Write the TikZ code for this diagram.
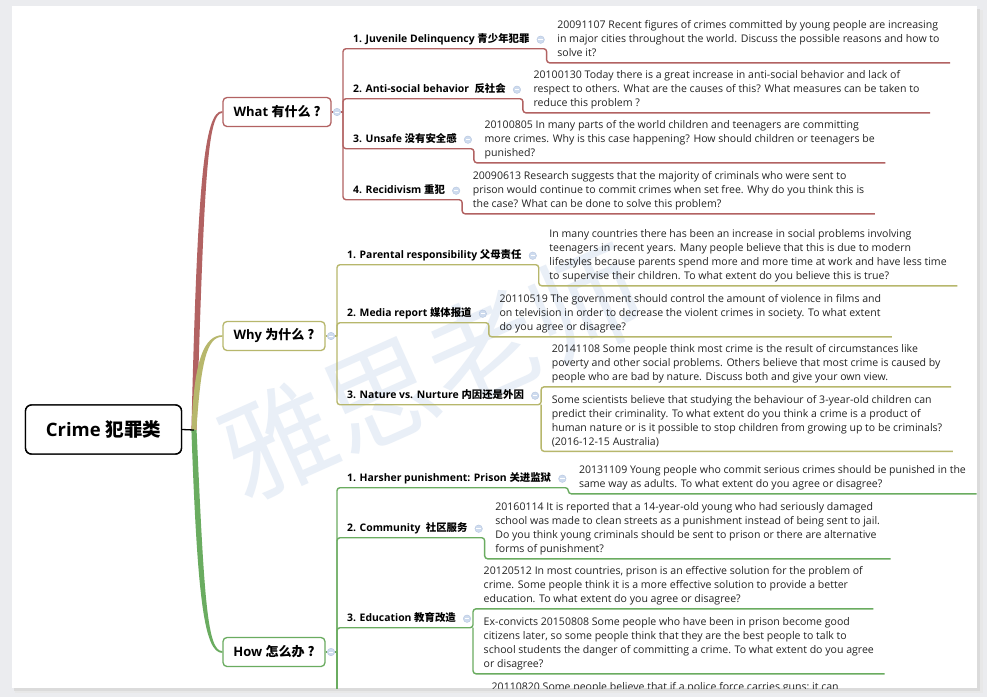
\documentclass[tikz,border=0pt]{standalone}
\usepackage{fontspec}
\setmainfont{Open Sans}
\newfontfamily\cjk{Noto Sans CJK SC}
\usetikzlibrary{calc}
\definecolor{redc}{RGB}{178,98,98}
\definecolor{olvc}{RGB}{183,183,108}
\definecolor{grnc}{RGB}{106,172,96}
\definecolor{wmk}{RGB}{233,239,247}
\definecolor{cirf}{RGB}{206,219,238}
\definecolor{cird}{RGB}{182,198,224}
\definecolor{bgc}{RGB}{235,236,239}
\definecolor{txt}{RGB}{35,35,35}
\newcommand\myBody{\fontsize{10.55}{14}\selectfont}
\newcommand\myLbl{\fontsize{10.4}{14}\selectfont\bfseries}
\newcommand\myTopic{\fontsize{13}{16}\selectfont\bfseries}
\newcommand\myRoot{\fontsize{18.5}{22}\selectfont\bfseries}
\begin{document}
\begin{tikzpicture}[x=1pt,y=-1pt,
  box/.style={anchor=west, inner xsep=10.5pt, inner ysep=1.8pt, align=left, font=\myBody, text=txt,
    execute at begin node=\strut, execute at end node=\strut},
  lbl/.style={anchor=west, inner xsep=10pt, inner ysep=1.8pt, font=\myLbl, text=black,
    execute at begin node=\strut, execute at end node=\strut},
  topic/.style={rounded corners=4pt, line width=1.3pt, fill=white, inner sep=0pt, font=\myTopic, minimum height=29pt},
  root/.style={draw=black, rounded corners=6pt, line width=1.4pt, fill=white, inner sep=0pt, font=\myRoot,
    minimum width=156pt, minimum height=49pt},
  cir/.style={circle, minimum size=7.5pt, inner sep=0pt, fill=cirf, draw=cird, line width=.4pt,
    path picture={\draw[white, line width=.8pt] ([xshift=-2.2pt]path picture bounding box.center) -- ([xshift=2.2pt]path picture bounding box.center);}},
  rl/.style={draw=redc, line width=1.4pt, rounded corners=3pt},
  ol/.style={draw=olvc, line width=1.4pt, rounded corners=3pt},
  gl/.style={draw=grnc, line width=1.4pt, rounded corners=3pt},
  wm/.style={font=\fontsize{112}{112}\selectfont\cjk, text=wmk, rotate=24, inner sep=0pt}
]
\useasboundingbox (0,0) rectangle (987,697);
% page frame
\fill[bgc] (0,0) rectangle (987,697);
\fill[black!14] (977,9) rectangle (980,691);
\fill[black!9] (980,10) rectangle (983,692);
\fill[black!14] (14,688) rectangle (980,691);
\fill[black!9] (15,691) rectangle (983,693);
\fill[white] (12,6) rectangle (977,688);
\begin{scope}
\clip (12,6) rectangle (977,688);
% watermark
\node[wm] (wmark) at (432,372) {雅思老师};

% main nodes (first pass, for branch geometry)
\node[root] (crime) at (103.5,429.5) {Crime \cjk{犯罪类}};
\coordinate (hub) at (194,430);
\node[topic, minimum width=108pt] (what) at (277,112) {};
\node[topic, minimum width=102pt] (why) at (274,336) {};
\node[topic, minimum width=102pt] (how) at (274,652) {};

% thick tapered branches
\fill[redc] ([xshift=-2.6pt]hub) .. controls +(6,-250) and +(-18,0) .. ([yshift=0.9pt]what.west)
  -- ([yshift=-0.9pt]what.west) .. controls +(-15,0) and +(7.5,-250) .. ([xshift=2.6pt]hub) -- cycle;
\fill[olvc] ([xshift=-2.4pt]hub) .. controls +(2,-70) and +(-18,0) .. ([yshift=0.8pt]why.west)
  -- ([yshift=-0.8pt]why.west) .. controls +(-15,0) and +(4.5,-70) .. ([xshift=2.4pt]hub) -- cycle;
\fill[grnc] ([xshift=-2.6pt]hub) .. controls +(6,170) and +(-18,0) .. ([yshift=-0.9pt]how.west)
  -- ([yshift=0.9pt]how.west) .. controls +(-15,0) and +(7.5,170) .. ([xshift=2.6pt]hub) -- cycle;
\draw[black, line width=1.3pt] (crime.east) -- (hub);

\node[topic, draw=redc, minimum width=108pt] (what) at (277,112) {What \cjk{有什么} ?};
\node[topic, draw=olvc, minimum width=102pt] (why) at (274,336) {Why \cjk{为什么} ?};
\node[topic, draw=grnc, minimum width=102pt] (how) at (274,652) {How \cjk{怎么办} ?};
\node[root] (crime) at (103.5,429.5) {Crime \cjk{犯罪类}};

% topic buttons and junctions
\node[cir] (wcir) at (337,112) {};
\node[cir] (ycir) at (331,336) {};
\node[cir] (hcir) at (331,652) {};
\coordinate (wj) at (343,112);
\coordinate (yj) at (337,336);
\coordinate (hj) at (337,652);
\draw[rl] (what.east) -- (wcir.west);
\draw[rl] (wcir.east) -- (wj);
\draw[ol] (why.east) -- (ycir.west);
\draw[ol] (ycir.east) -- (yj);
\draw[gl] (how.east) -- (hcir.west);
\draw[gl] (hcir.east) -- (hj);

% ---------- What ----------
\node[lbl] (w1l) at (343,39.7) {1. Juvenile Delinquency \cjk{青少年犯罪}};
\node[cir] (w1c) at ([xshift=1pt]w1l.east) {};
\node[box] (w1b) at ($(w1l.east)+(7,1)$) {20091107 Recent figures of crimes committed by young people are increasing\\in major cities throughout the world. Discuss the possible reasons and how to\\solve it?};
\draw[rl] (wj) -- (wj |- w1l.south) -- (w1b.south west |- w1l.south) -- (w1b.south west) -- (w1b.south east);

\node[lbl] (w2l) at (343,89.7) {2. Anti-social behavior\ \ \cjk{反社会}};
\node[cir] (w2c) at ([xshift=1pt]w2l.east) {};
\node[box] (w2b) at ($(w2l.east)+(7,1)$) {20100130 Today there is a great increase in anti-social behavior and lack of\\respect to others. What are the causes of this? What measures can be taken to\\reduce this problem ?};
\draw[rl] (wj) -- (wj |- w2l.south) -- (w2b.south west |- w2l.south) -- (w2b.south west) -- (w2b.south east);

\node[lbl] (w3l) at (343,139.7) {3. Unsafe \cjk{没有安全感}};
\node[cir] (w3c) at ([xshift=1pt]w3l.east) {};
\node[box] (w3b) at ($(w3l.east)+(7,1)$) {20100805 In many parts of the world children and teenagers are committing\\more crimes. Why is this case happening? How should children or teenagers be\\punished?};
\draw[rl] (wj) -- (wj |- w3l.south) -- (w3b.south west |- w3l.south) -- (w3b.south west) -- (w3b.south east);

\node[lbl] (w4l) at (343,190.7) {4. Recidivism \cjk{重犯}};
\node[cir] (w4c) at ([xshift=1pt]w4l.east) {};
\node[box] (w4b) at ($(w4l.east)+(7,1)$) {20090613 Research suggests that the majority of criminals who were sent to\\prison would continue to commit crimes when set free. Why do you think this is\\the case? What can be done to solve this problem?};
\draw[rl] (wj) -- (wj |- w4l.south) -- (w4b.south west |- w4l.south) -- (w4b.south west) -- (w4b.south east);

% ---------- Why ----------
\node[lbl] (y1l) at (337,255.7) {1. Parental responsibility \cjk{父母责任}};
\node[cir] (y1c) at ([xshift=1pt]y1l.east) {};
\node[box] (y1b) at ($(y1l.east)+(7,1)$) {In many countries there has been an increase in social problems involving\\teenagers in recent years. Many people believe that this is due to modern\\lifestyles because parents spend more and more time at work and have less time\\to supervise their children. To what extent do you believe this is true?};
\draw[ol] (yj) -- (yj |- y1l.south) -- (y1b.south west |- y1l.south) -- (y1b.south west) -- (y1b.south east);

\node[lbl] (y2l) at (337,313.7) {2. Media report \cjk{媒体报道}};
\node[cir] (y2c) at ([xshift=1pt]y2l.east) {};
\node[box] (y2b) at ($(y2l.east)+(7,1)$) {20110519 The government should control the amount of violence in films and\\on television in order to decrease the violent crimes in society. To what extent\\do you agree or disagree?};
\draw[ol] (yj) -- (yj |- y2l.south) -- (y2b.south west |- y2l.south) -- (y2b.south west) -- (y2b.south east);

\node[lbl] (y3l) at (337,395.7) {3. Nature vs. Nurture \cjk{内因还是外因}};
\node[cir] (y3c) at ([xshift=1pt]y3l.east) {};
\node[box] (y3a) at ($(y3l.east)+(7,-31)$) {20141108 Some people think most crime is the result of circumstances like\\poverty and other social problems. Others believe that most crime is caused by\\people who are bad by nature. Discuss both and give your own view.};
\node[box] (y3b) at ($(y3l.east)+(7,26.5)$) {Some scientists believe that studying the behaviour of 3-year-old children can\\predict their criminality. To what extent do you think a crime is a product of\\human nature or is it possible to stop children from growing up to be criminals?\\(2016-12-15 Australia)};
\draw[ol] (yj) -- (yj |- y3l.south) -- (y3a.south west |- y3l.south) -- (y3a.south west) -- (y3a.south east);
\draw[ol] (y3a.south west |- y3l.south) -- (y3b.south west) -- (y3b.south east);

% ---------- How ----------
\node[lbl] (h1l) at (337,478.7) {1. Harsher punishment: Prison \cjk{关进监狱}};
\node[cir] (h1c) at ([xshift=1pt]h1l.east) {};
\node[box] (h1b) at ($(h1l.east)+(7,0)$) {20131109 Young people who commit serious crimes should be punished in the\\same way as adults. To what extent do you agree or disagree?};
\draw[gl] (hj) -- (hj |- h1l.south) -- (h1b.south west |- h1l.south) -- (h1b.south west) -- (h1b.south east);

\node[lbl] (h2l) at (337,528.7) {2. Community\ \ \cjk{社区服务}};
\node[cir] (h2c) at ([xshift=1pt]h2l.east) {};
\node[box] (h2b) at ($(h2l.east)+(7,1)$) {20160114 It is reported that a 14-year-old young who had seriously damaged\\school was made to clean streets as a punishment instead of being sent to jail.\\Do you think young criminals should be sent to prison or there are alternative\\forms of punishment?};
\draw[gl] (hj) -- (hj |- h2l.south) -- (h2b.south west |- h2l.south) -- (h2b.south west) -- (h2b.south east);

\node[lbl] (h3l) at (337,618.7) {3. Education \cjk{教育改造}};
\node[cir] (h3c) at ([xshift=1pt]h3l.east) {};
\node[box] (h3a) at ($(h3l.east)+(7,-32)$) {20120512 In most countries, prison is an effective solution for the problem of\\crime. Some people think it is a more effective solution to provide a better\\education. To what extent do you agree or disagree?};
\node[box] (h3b) at ($(h3l.east)+(7,26)$) {Ex-convicts 20150808 Some people who have been in prison become good\\citizens later, so some people think that they are the best people to talk to\\school students the danger of committing a crime. To what extent do you agree\\or disagree?};
\draw[gl] (hj) -- (hj |- h3l.south) -- (h3a.south west |- h3l.south) -- (h3a.south west) -- (h3a.south east);
\draw[gl] (h3a.south west |- h3l.south) -- (h3b.south west) -- (h3b.south east);

\node[box] (h4b) at (481,687.5) {20110820 Some people believe that if a police force carries guns; it can};
\coordinate (hbot) at (337,700);
\draw[gl] (hj) -- (hbot);
\end{scope}
\end{tikzpicture}
\end{document}
